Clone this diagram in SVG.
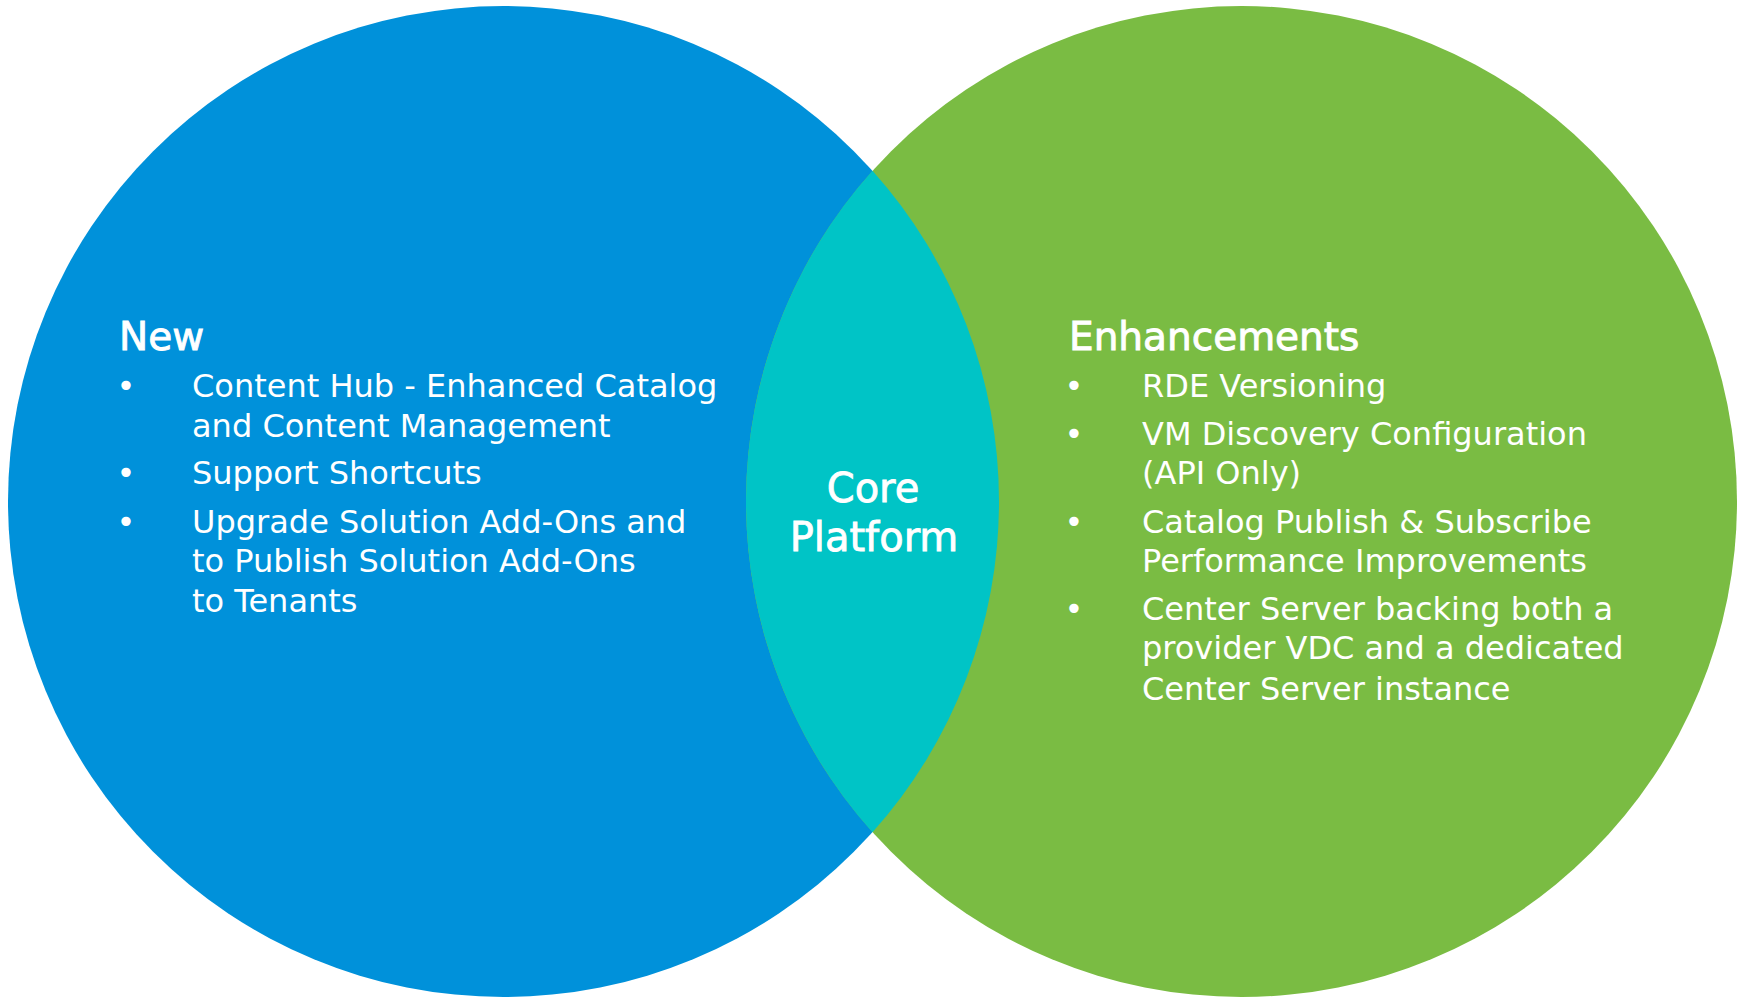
<svg xmlns="http://www.w3.org/2000/svg" width="1746" height="1004" viewBox="0 0 1746 1004">
  <style>
    .t { font-family: "DejaVu Sans", "Liberation Sans", sans-serif; fill: #ffffff; }
    .item { font-size: 32px; }
    .bul { font-size: 32px; text-anchor: middle; }
    .head { font-size: 39px; stroke: #ffffff; stroke-width: 0.9px; }
    .core { font-size: 40px; text-anchor: middle; stroke: #ffffff; stroke-width: 0.8px; }
  </style>
  <rect width="1746" height="1004" fill="#ffffff"/>
  <g id="circle-new">
    <circle cx="503.5" cy="501.5" r="495.5" fill="#0091DA"/>
  </g>
  <g id="circle-enhancements">
    <circle cx="1241.5" cy="501.5" r="495.5" fill="#7ABC43"/>
  </g>
  <g id="core-platform">
    <path d="M 872.5 170.8 A 495.5 495.5 0 0 1 872.5 832.2 A 495.5 495.5 0 0 1 872.5 170.8 Z" fill="#00C4C6"/>
    <text class="t core" x="873" y="502">Core</text>
    <text class="t core" x="874" y="551">Platform</text>
  </g>
  <g id="new-text">
    <text class="t head" x="119" y="350">New</text>
    <text class="t bul" x="126" y="397">•</text>
    <text class="t item" x="192" y="397">Content Hub - Enhanced Catalog</text>
    <text class="t item" x="192" y="437">and Content Management</text>
    <text class="t bul" x="126" y="484">•</text>
    <text class="t item" x="192" y="484">Support Shortcuts</text>
    <text class="t bul" x="126" y="533">•</text>
    <text class="t item" x="192" y="533">Upgrade Solution Add-Ons and</text>
    <text class="t item" x="192" y="572">to Publish Solution Add-Ons</text>
    <text class="t item" x="192" y="612">to Tenants</text>
  </g>
  <g id="enhancements-text">
    <text class="t head" x="1069" y="350">Enhancements</text>
    <text class="t bul" x="1074" y="397">•</text>
    <text class="t item" x="1142" y="397">RDE Versioning</text>
    <text class="t bul" x="1074" y="445">•</text>
    <text class="t item" x="1142" y="445">VM Discovery Configuration</text>
    <text class="t item" x="1142" y="484">(API Only)</text>
    <text class="t bul" x="1074" y="533">•</text>
    <text class="t item" x="1142" y="533">Catalog Publish &amp; Subscribe</text>
    <text class="t item" x="1142" y="572">Performance Improvements</text>
    <text class="t bul" x="1074" y="620">•</text>
    <text class="t item" x="1142" y="620">Center Server backing both a</text>
    <text class="t item" x="1142" y="659">provider VDC and a dedicated</text>
    <text class="t item" x="1142" y="700">Center Server instance</text>
  </g>
  <g id="connectors"></g>
</svg>
